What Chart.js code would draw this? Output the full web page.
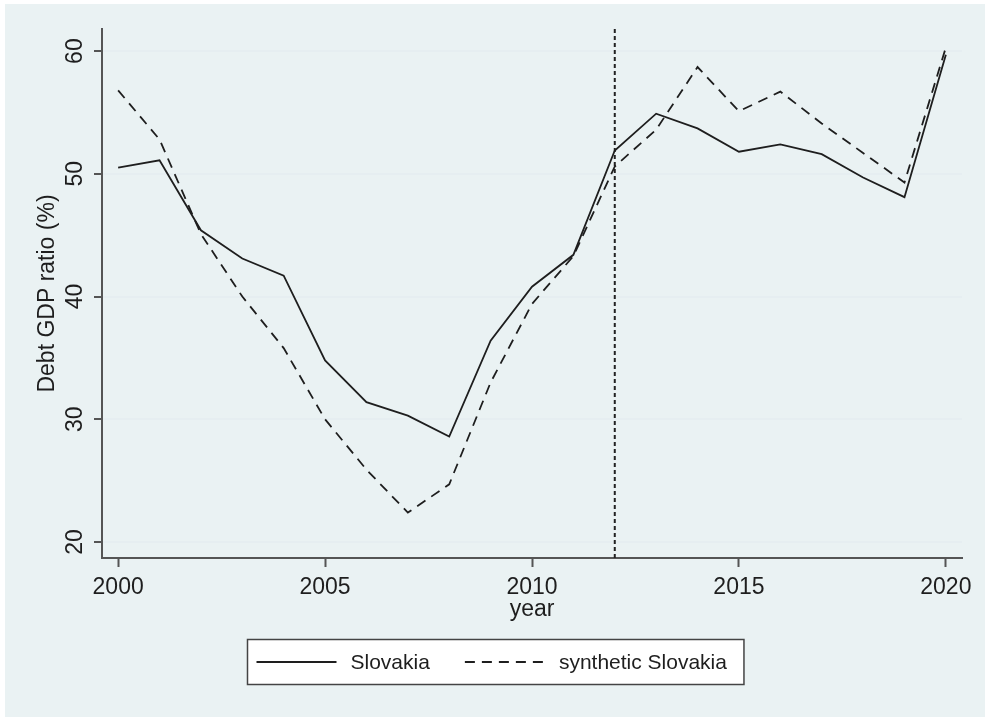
<!DOCTYPE html>
<html>
<head>
<meta charset="utf-8">
<script src="https://cdn.jsdelivr.net/npm/chart.js@4.4.1/dist/chart.umd.min.js"></script>
<style>
  html, body { margin: 0; padding: 0; background: #fff; }
  #wrap { position: absolute; left: 5px; top: 4px; width: 980px; height: 713px; background: #eaf2f3; }
</style>
</head>
<body>
<div id="wrap"><canvas id="myChart" width="980" height="713"></canvas></div>
<script>
// data
const years = [2000, 2001, 2002, 2003, 2004, 2005, 2006, 2007, 2008, 2009, 2010,
               2011, 2012, 2013, 2014, 2015, 2016, 2017, 2018, 2019, 2020];
const slovakia = [50.5, 51.1, 45.4, 43.1, 41.7, 34.8, 31.4, 30.3, 28.6, 36.4, 40.8,
                  43.4, 51.9, 54.9, 53.7, 51.8, 52.4, 51.6, 49.7, 48.1, 59.7];
const synthetic = [56.8, 52.8, 45.1, 40.0, 35.8, 30.0, 25.9, 22.4, 24.7, 33.0, 39.4,
                   43.3, 50.6, 53.6, 58.7, 55.1, 56.7, 54.1, 51.7, 49.3, 60.3];
const seriesNames = ['Slovakia', 'synthetic Slovakia'];
const treatmentYear = 2012;
const xTitle = 'year';
const yTitle = 'Debt GDP ratio (%)';

const FONT = "'Liberation Sans', Arial, sans-serif";
const ink = '#1e1e1e';
const axisGray = '#555';
const gridBlue = '#e6eef1';

function toPoints(vals) {
    return years.map((yr, i) => ({ x: yr, y: vals[i] }));
}

// dotted line at the treatment year
const treatmentLine = {
    id: 'treatmentLine',
    beforeDatasetsDraw(chart) {
        const { ctx, chartArea, scales } = chart;
        const px = scales.x.getPixelForValue(treatmentYear);
        ctx.save();
        ctx.strokeStyle = '#222';
        ctx.lineWidth = 2;
        ctx.setLineDash([4, 3]);
        ctx.beginPath();
        ctx.moveTo(px, chartArea.top);
        ctx.lineTo(px, chartArea.bottom);
        ctx.stroke();
        ctx.restore();
    }
};

// boxed legend under the axis title
const legendBox = {
    id: 'legendBox',
    afterDraw(chart) {
        const ctx = chart.ctx;
        const sets = chart.data.datasets;
        const sample = 80, gap = 14, between = 35, padL = 9, padR = 17, boxH = 45;
        ctx.save();
        ctx.font = '21px ' + FONT;
        const widths = sets.map(d => ctx.measureText(d.label).width);
        let boxW = padL + padR + between * (sets.length - 1);
        widths.forEach(w => { boxW += sample + gap + w; });
        const left = Math.round(chart.width / 2 - boxW / 2) + 0.5;
        const top = Math.round(chart.scales.x.bottom + 16) + 0.5;
        const cy = top + boxH / 2;
        ctx.fillStyle = '#fff';
        ctx.fillRect(left, top, boxW, boxH);
        ctx.strokeStyle = '#444';
        ctx.lineWidth = 1.5;
        ctx.strokeRect(left, top, boxW, boxH);
        let x = left + padL;
        sets.forEach((d, i) => {
            ctx.strokeStyle = d.borderColor;
            ctx.lineWidth = d.borderWidth;
            ctx.setLineDash(d.borderDash || []);
            ctx.beginPath();
            ctx.moveTo(x, cy);
            ctx.lineTo(x + sample, cy);
            ctx.stroke();
            ctx.setLineDash([]);
            x += sample + gap;
            ctx.fillStyle = ink;
            ctx.textBaseline = 'middle';
            ctx.fillText(d.label, x, cy + 1);
            x += widths[i] + between;
        });
        ctx.restore();
    }
};

const ctx = document.getElementById('myChart').getContext('2d');
const myChart = new Chart(ctx, {
    type: 'line',
    data: {
        datasets: [
            { label: seriesNames[0], data: toPoints(slovakia), borderColor: ink, borderWidth: 1.8,
              pointRadius: 0, tension: 0, fill: false },
            { label: seriesNames[1], data: toPoints(synthetic), borderColor: ink, borderWidth: 1.8,
              borderDash: [10, 7], pointRadius: 0, tension: 0, fill: false }
        ]
    },
    options: {
        responsive: false,
        animation: false,
        layout: { padding: { top: 25, right: 23, bottom: 94, left: 0 } },
        plugins: { legend: { display: false }, tooltip: { enabled: false } },
        scales: {
            x: {
                type: 'linear',
                min: 1999.61,
                max: 2020.39,
                afterFit: s => { s.height = 65; },
                grid: { drawOnChartArea: false, tickLength: 9, tickColor: axisGray, tickWidth: 2 },
                border: { color: axisGray, width: 2 },
                ticks: { stepSize: 5, includeBounds: false, padding: 7, maxRotation: 0, color: ink,
                         font: { family: FONT, size: 23 }, callback: v => String(v) },
                title: { display: true, text: xTitle, color: ink, padding: 0,
                         font: { family: FONT, size: 23 } }
            },
            y: {
                min: 18.7,
                max: 61.8,
                afterFit: s => { s.width = 97; },
                grid: { color: gridBlue, lineWidth: 2, tickLength: 8, tickColor: axisGray, tickWidth: 2 },
                border: { color: axisGray, width: 2 },
                ticks: { stepSize: 10, includeBounds: false, minRotation: 90, maxRotation: 90,
                         crossAlign: 'center', padding: 6, color: ink,
                         font: { family: FONT, size: 23 } },
                title: { display: true, text: yTitle, color: ink, padding: { top: 29, bottom: 0 },
                         font: { family: FONT, size: 23 } }
            }
        }
    },
    plugins: [treatmentLine, legendBox]
});
</script>
</body>
</html>
